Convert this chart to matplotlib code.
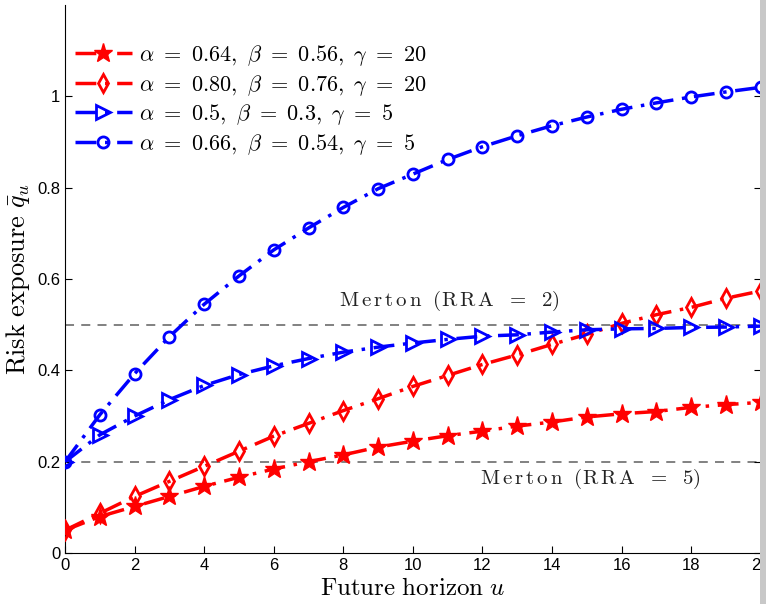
import numpy as np
import matplotlib
matplotlib.use('Agg')
import matplotlib.pyplot as plt
from matplotlib.patches import Rectangle
from matplotlib.ticker import FuncFormatter

plt.rcParams['mathtext.fontset'] = 'cm'
plt.rcParams['font.family'] = 'Liberation Sans'

u = np.arange(0, 21)

# alpha=0.64, beta=0.56, gamma=20
q_star = [0.05, 0.080, 0.102, 0.124, 0.146, 0.166, 0.184, 0.200, 0.215, 0.232,
          0.245, 0.257, 0.267, 0.278, 0.287, 0.298, 0.305, 0.310, 0.319, 0.325, 0.330]
# alpha=0.80, beta=0.76, gamma=20
q_diam = [0.05, 0.087, 0.124, 0.157, 0.190, 0.223, 0.256, 0.284, 0.312, 0.338,
          0.365, 0.389, 0.413, 0.434, 0.457, 0.479, 0.503, 0.522, 0.538, 0.558, 0.574]
# alpha=0.5, beta=0.3, gamma=5
q_tri = [0.20, 0.259, 0.300, 0.336, 0.367, 0.391, 0.410, 0.426, 0.440, 0.451,
         0.460, 0.468, 0.475, 0.478, 0.484, 0.489, 0.491, 0.492, 0.494, 0.495, 0.497]
# alpha=0.66, beta=0.54, gamma=5
q_circ = [0.20, 0.303, 0.393, 0.474, 0.545, 0.607, 0.664, 0.712, 0.757, 0.798,
          0.830, 0.862, 0.890, 0.914, 0.936, 0.955, 0.972, 0.986, 0.999, 1.010, 1.020]

merton = [0.5, 0.2]
merton_labels = [r'$\mathrm{M\,e\,r\,t\,o\,n\ \ (R\,R\,A\ \ =\ \ 2)}$',
                 r'$\mathrm{M\,e\,r\,t\,o\,n\ \ (R\,R\,A\ \ =\ \ 5)}$']

labels = [r'$\alpha\ =\ 0.64,\ \beta\ =\ 0.56,\ \gamma\ =\ 20$',
          r'$\alpha\ =\ 0.80,\ \beta\ =\ 0.76,\ \gamma\ =\ 20$',
          r'$\alpha\ =\ 0.5,\ \beta\ =\ 0.3,\ \gamma\ =\ 5$',
          r'$\alpha\ =\ 0.66,\ \beta\ =\ 0.54,\ \gamma\ =\ 5$']

fig = plt.figure(figsize=(7.66, 6.04), dpi=100)
ax = fig.add_axes([0.085, 0.0844, 0.908, 0.907])

# merton benchmarks
for m in merton:
    ax.plot([0, 20], [m, m], color='#777777', linestyle=(0, (5, 4)), linewidth=1.3, zorder=1)
ax.text(11.05, 0.525, merton_labels[0], fontsize=15, ha='center', va='bottom', color='#222222')
ax.text(15.1, 0.163, merton_labels[1], fontsize=15, ha='center', va='center', color='#222222')

ls = (0, (6, 2.5, 1, 2.5))
ax.plot(u, q_star, color='red', linestyle=ls, linewidth=2.5, marker='*', markersize=14,
        markerfacecolor='red', label=labels[0], zorder=3)
ax.plot(u, q_diam, color='red', linestyle=ls, linewidth=2.5, marker='d', markersize=9,
        markerfacecolor='none', markeredgewidth=2, label=labels[1], zorder=3)
ax.plot(u, q_tri, color='blue', linestyle=ls, linewidth=2.5, marker='>', markersize=10,
        markerfacecolor='none', markeredgewidth=2, label=labels[2], zorder=3)
ax.plot(u, q_circ, color='blue', linestyle=ls, linewidth=2.5, marker='o', markersize=8,
        markerfacecolor='none', markeredgewidth=2, label=labels[3], zorder=3)

ax.set_xlim(0, 20)
ax.set_ylim(0, 1.2)
ax.set_xticks(range(0, 21, 2))
ax.set_yticks([0, 0.2, 0.4, 0.6, 0.8, 1.0])
ax.yaxis.set_major_formatter(FuncFormatter(lambda v, p: '%g' % v))
ax.tick_params(direction='in', labelsize=12, length=5, right=True)
ax.spines['top'].set_visible(False)
ax.spines['right'].set_visible(False)

ax.set_xlabel(r'$\mathrm{Future\ horizon}\ u$', fontsize=18, labelpad=2)
ax.set_ylabel(r'$\mathrm{Risk\ exposure}\ \bar{q}_u$', fontsize=19, labelpad=4)

ax.legend(loc='upper left', bbox_to_anchor=(-0.012, 0.963), frameon=False, fontsize=16,
          handlelength=2.6, handletextpad=0.3, labelspacing=0.2, borderpad=0.3)

# gray band at right edge
fig.patches.append(Rectangle((760 / 766, 0), 6 / 766, 1, transform=fig.transFigure,
                             facecolor='#c8c8c8', edgecolor='none', zorder=5))

fig.savefig('out.png', dpi=100)
